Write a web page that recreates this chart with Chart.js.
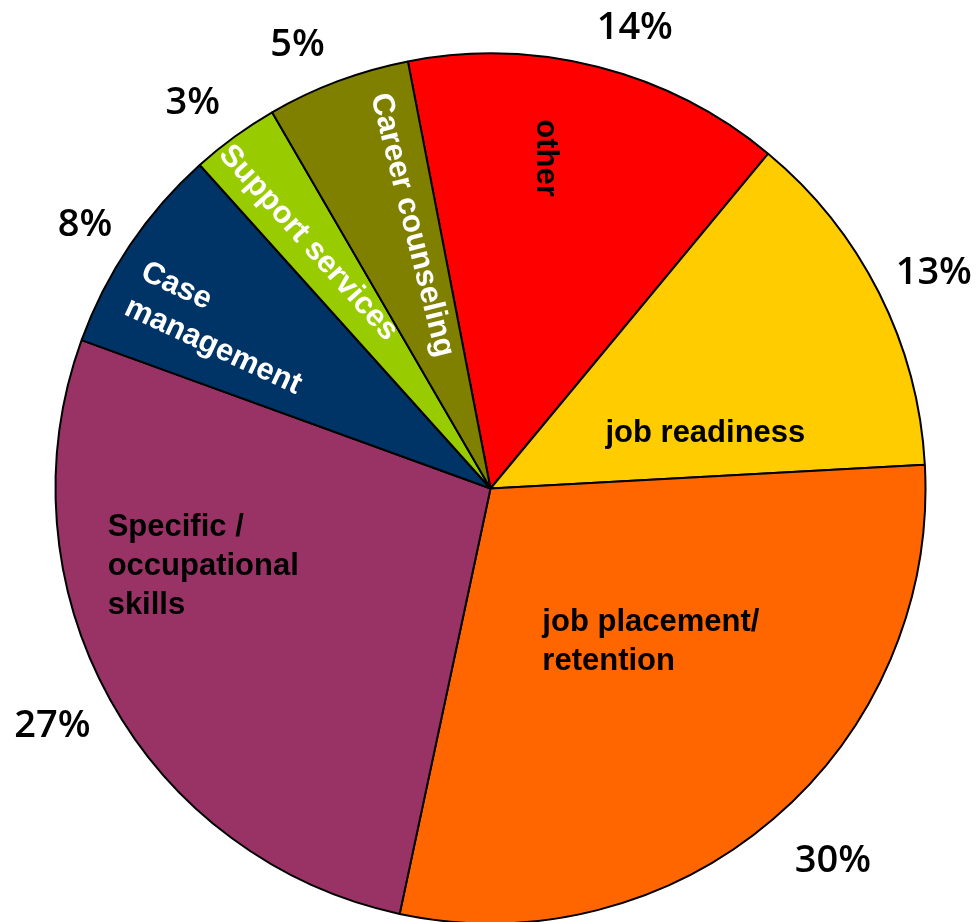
<!DOCTYPE html>
<html>
<head>
<meta charset="utf-8">
<title>Services pie</title>
<script src="https://cdn.jsdelivr.net/npm/chart.js"></script>
<style>
  html, body { margin: 0; padding: 0; background: #fff; overflow: hidden; }
  #chart { display: block; }
</style>
</head>
<body>
<canvas id="chart" width="980" height="922"></canvas>
<script>
// slice names, split into the lines they are drawn on
const categories = [
    ['other'],
    ['job readiness'],
    ['job placement/', 'retention'],
    ['Specific /', 'occupational', 'skills'],
    ['Case', 'management'],
    ['Support services'],
    ['Career counseling']
];
// slice sizes (the printed labels are rounded)
const shares = [14.06, 13.11, 29.22, 27.19, 7.81, 3.28, 5.33];
const pctLabels = ['14%', '13%', '30%', '27%', '8%', '3%', '5%'];

const sliceColors = ['#FF0000', '#FFCC00', '#FF6600', '#993366', '#003366', '#99CC00', '#808000'];
const textColors = ['#000', '#000', '#000', '#000', '#fff', '#fff', '#fff'];

// where the name sits in its slice: angle nudge (deg), fraction of radius, text rotation (deg)
const insideLayout = [
    { turn: -4.9, r: 0.77, rot: 90, align: 'center' },
    { turn: 12.35, r: 0.51, rot: 0, align: 'center' },
    { turn: -5.75, r: 0.51, rot: 0, align: 'left' },
    { turn: 13.9, r: 0.684, rot: 0, align: 'left' },
    { turn: -3.3, r: 0.72, rot: 25, align: 'left' },
    { turn: -0.55, r: 0.703, rot: 48, align: 'center' },
    { turn: 3.95, r: 0.632, rot: 76, align: 'center' }
];
// percent labels outside the pie: angle nudge (deg), distance past the rim (px)
const pctLayout = [
    { turn: 2.95, dr: 50 },
    { turn: 0.55, dr: 59 },
    { turn: -2.25, dr: 69 },
    { turn: 0.8, dr: 62 },
    { turn: -0.7, dr: 50 },
    { turn: -1.45, dr: 54 },
    { turn: -2.85, dr: 51 }
];

const DEG = Math.PI / 180;
const nameFont = 'bold 31px "Liberation Sans", Arial, sans-serif';
const pctFont = '600 38px "Open Sans", sans-serif';
const lineH = 39;

const sliceLabels = {
    id: 'sliceLabels',
    afterDatasetsDraw(chart) {
        const ctx = chart.ctx;
        const arcs = chart.getDatasetMeta(0).data;
        arcs.forEach((arc, i) => {
            const p = arc.getProps(['x', 'y', 'startAngle', 'endAngle', 'outerRadius'], true);
            const mid = (p.startAngle + p.endAngle) / 2;

            const L = insideLayout[i];
            const a = mid + L.turn * DEG;
            const cx = p.x + Math.cos(a) * p.outerRadius * L.r;
            const cy = p.y + Math.sin(a) * p.outerRadius * L.r;
            ctx.save();
            ctx.translate(cx, cy);
            ctx.rotate(L.rot * DEG);
            ctx.font = nameFont;
            ctx.fillStyle = textColors[i];
            ctx.textBaseline = 'middle';
            const lines = categories[i];
            const w = Math.max(...lines.map(t => ctx.measureText(t).width));
            lines.forEach((t, k) => {
                const ly = (k - (lines.length - 1) / 2) * lineH;
                if (L.align === 'left') {
                    ctx.textAlign = 'left';
                    ctx.fillText(t, -w / 2, ly);
                } else {
                    ctx.textAlign = 'center';
                    ctx.fillText(t, 0, ly);
                }
            });
            ctx.restore();

            const P = pctLayout[i];
            const b = mid + P.turn * DEG;
            const px = p.x + Math.cos(b) * (p.outerRadius + P.dr);
            const py = p.y + Math.sin(b) * (p.outerRadius + P.dr);
            ctx.save();
            ctx.font = pctFont;
            ctx.fillStyle = '#000';
            ctx.textAlign = 'center';
            ctx.textBaseline = 'alphabetic';
            const m = ctx.measureText(pctLabels[i]);
            ctx.fillText(pctLabels[i], px, py + (m.actualBoundingBoxAscent - m.actualBoundingBoxDescent) / 2);
            ctx.restore();
        });
    }
};

new Chart(document.getElementById('chart'), {
    type: 'pie',
    data: {
        labels: categories.map(l => l.join(' ')),
        datasets: [{
            data: shares,
            backgroundColor: sliceColors,
            borderColor: '#000',
            borderWidth: 2,
            clip: false
        }]
    },
    options: {
        responsive: false,
        animation: false,
        events: [],
        rotation: -10.95,
        radius: 435,
        layout: { padding: { top: 55, bottom: 0, left: 1, right: 0 } },
        plugins: {
            legend: { display: false },
            tooltip: { enabled: false }
        }
    },
    plugins: [sliceLabels]
});
</script>
</body>
</html>
